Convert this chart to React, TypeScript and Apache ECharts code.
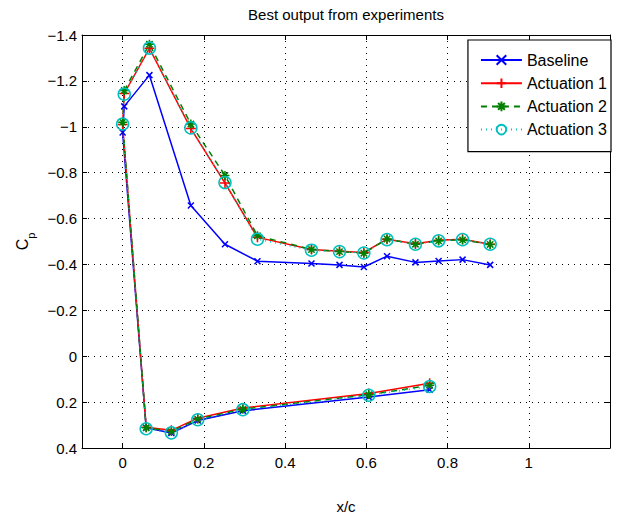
import React, { useEffect, useRef } from "react";
import * as echarts from "echarts";

// x/c stations: lower surface (trailing edge -> leading edge), then upper surface (leading edge -> trailing edge)
const xc = [0.756, 0.606, 0.296, 0.185, 0.12, 0.058, 0, 0.004, 0.066, 0.168, 0.252, 0.332, 0.465, 0.534, 0.594, 0.651, 0.721, 0.778, 0.837, 0.905];

const cpBaseline = [0.146, 0.178, 0.238, 0.28, 0.335, 0.312, -0.975, -1.089, -1.225, -0.657, -0.488, -0.414, -0.404, -0.398, -0.389, -0.436, -0.409, -0.415, -0.421, -0.398];
const cpAct1 = [0.118, 0.162, 0.226, 0.27, 0.323, 0.31, -1.01, -1.145, -1.342, -0.992, -0.755, -0.518, -0.465, -0.458, -0.452, -0.51, -0.49, -0.505, -0.51, -0.488];
const cpAct2 = [0.127, 0.168, 0.231, 0.274, 0.328, 0.312, -1.02, -1.158, -1.36, -1.012, -0.788, -0.525, -0.465, -0.456, -0.449, -0.511, -0.488, -0.503, -0.507, -0.487];
const cpAct3 = [0.132, 0.17, 0.233, 0.277, 0.334, 0.316, -1.012, -1.142, -1.343, -0.995, -0.757, -0.51, -0.462, -0.456, -0.45, -0.508, -0.488, -0.503, -0.508, -0.488];

const seriesNames = ["Baseline", "Actuation 1", "Actuation 2", "Actuation 3"];
const xTicks = [0, 0.2, 0.4, 0.6, 0.8, 1];

const FONT = "'Liberation Sans', Arial, Helvetica, sans-serif";

const pairs = (ys: number[]) => ys.map((y, i) => [xc[i], y]);
const fmt = (v: number) => {
  const r = Math.round(v * 10) / 10;
  if (r === 0) return "0";
  return (r < 0 ? "\u2212" : "") + String(Math.abs(r));
};

export default function App() {
  const ref = useRef<HTMLDivElement>(null);
  useEffect(() => {
    document.body.style.margin = "0";
    if (!ref.current) return;
    const chart = echarts.init(ref.current, undefined, { renderer: "svg" });
    const gridLine = { show: true, lineStyle: { color: "#000", type: [1, 5], width: 1 } };
    const xAxisBase = {
      type: "value",
      min: -0.1,
      max: 1.2,
      axisLine: { show: true, onZero: false, lineStyle: { color: "#000", width: 1 } },
      axisTick: { show: true, inside: true, length: 5, customValues: xTicks, lineStyle: { color: "#000" } },
    };
    const yAxisBase = {
      type: "value",
      inverse: true,
      min: -1.4,
      max: 0.4,
      interval: 0.2,
      axisLine: { show: true, onZero: false, lineStyle: { color: "#000", width: 1 } },
      axisTick: { show: true, inside: true, length: 5, lineStyle: { color: "#000" } },
    };
    const mk = (
      name: string,
      data: number[],
      color: string,
      symbol: string,
      symbolSize: number,
      lineType: any,
      fill: string
    ) => ({
      name,
      type: "line",
      data: pairs(data),
      symbol,
      symbolSize,
      showSymbol: true,
      color,
      lineStyle: { color, width: 1.5, type: lineType },
      itemStyle: { color: fill, borderColor: color, borderWidth: 1.5 },
      emphasis: { disabled: true },
    });
    chart.setOption({
      animation: false,
      backgroundColor: "#fff",
      textStyle: { fontFamily: FONT },
      title: {
        text: "Best output from experiments",
        left: 341,
        top: 2,
        textAlign: "center",
        textStyle: { fontSize: 15, fontWeight: "normal", color: "#000", fontFamily: FONT },
      },
      grid: { left: 82, right: 22, top: 35, bottom: 74, containLabel: false },
      legend: {
        orient: "vertical",
        right: 21,
        top: 40,
        data: seriesNames,
        backgroundColor: "#fff",
        borderColor: "#000",
        borderWidth: 1.2,
        padding: [12, 4, 14, 12],
        itemWidth: 41,
        itemHeight: 12,
        itemGap: 7.2,
        textStyle: { fontSize: 16, color: "#000", fontFamily: FONT },
      },
      xAxis: [
        {
          ...xAxisBase,
          position: "bottom",
          name: "x/c",
          nameLocation: "middle",
          nameGap: 51,
          nameTextStyle: { fontSize: 15, color: "#000", fontFamily: FONT },
          axisLabel: { customValues: xTicks, color: "#000", fontSize: 15, margin: 7, fontFamily: FONT, formatter: fmt },
          splitLine: gridLine,
        },
        {
          ...xAxisBase,
          position: "top",
          axisLabel: { show: false },
          splitLine: { show: false },
        },
      ],
      yAxis: [
        {
          ...yAxisBase,
          position: "left",
          name: "{c|C}{p|p}",
          nameLocation: "middle",
          nameGap: 46,
          nameRotate: 90,
          nameTextStyle: {
            color: "#000",
            fontFamily: FONT,
            rich: {
              c: { fontSize: 16, color: "#000", fontFamily: FONT, verticalAlign: "top", lineHeight: 22 },
              p: { fontSize: 11, color: "#000", fontFamily: FONT, verticalAlign: "bottom", lineHeight: 22 },
            },
          },
          axisLabel: { color: "#000", fontSize: 15, margin: 5, fontFamily: FONT, formatter: fmt },
          splitLine: gridLine,
        },
        {
          ...yAxisBase,
          position: "right",
          axisLabel: { show: false },
          splitLine: { show: false },
        },
      ],
      series: [
        mk(seriesNames[0], cpBaseline, "#0000ff", "path://M0,0L10,10M10,0L0,10", 6, "solid", "#0000ff"),
        mk(seriesNames[1], cpAct1, "#ff0000", "path://M5,0L5,10M0,5L10,5", 10, "solid", "#ff0000"),
        mk(seriesNames[2], cpAct2, "#008000", "path://M5,0L5,10M0,5L10,5M1.5,1.5L8.5,8.5M8.5,1.5L1.5,8.5", 9, [6, 5], "#008000"),
        mk(seriesNames[3], cpAct3, "#00bfbf", "circle", 12, [1, 4], "rgba(0,0,0,0)"),
      ],
    });
    return () => chart.dispose();
  }, []);
  return <div ref={ref} style={{ width: 632, height: 522 }} />;
}
